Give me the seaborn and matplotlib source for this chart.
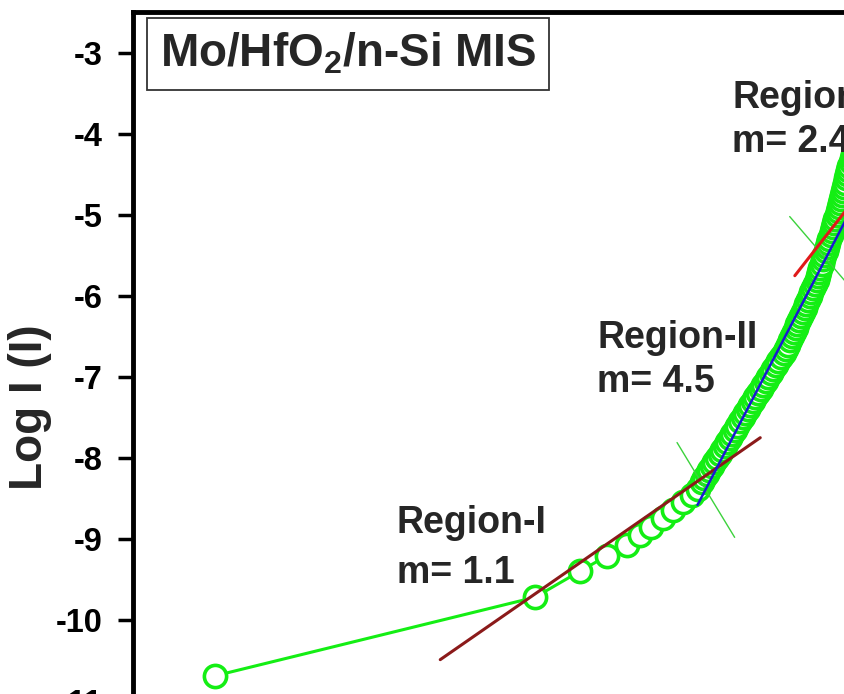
import numpy as np
import pandas as pd
import seaborn as sns
import matplotlib.pyplot as plt

# log V / log I data
log_v = [-0.96, 1.54, 1.89, 2.10, 2.26, 2.36, 2.45, 2.54, 2.62, 2.70, 2.77, 2.81,
         2.842, 2.862, 2.882, 2.902, 2.922, 2.942, 2.962, 2.982, 3.002, 3.022,
         3.042, 3.062, 3.082, 3.102, 3.122, 3.142, 3.162, 3.182, 3.202, 3.222,
         3.242, 3.262, 3.282, 3.302, 3.322, 3.342, 3.362, 3.382, 3.402, 3.422,
         3.442, 3.462, 3.482, 3.502, 3.519, 3.533, 3.547, 3.561, 3.576, 3.590,
         3.604, 3.619, 3.633, 3.646, 3.659, 3.673, 3.686, 3.700, 3.713, 3.727,
         3.740, 3.750, 3.760, 3.770, 3.780, 3.790, 3.800, 3.810, 3.820, 3.830,
         3.839, 3.849, 3.858, 3.868, 3.877, 3.887, 3.896, 3.905, 3.913, 3.922,
         3.930, 3.938, 3.947, 3.955, 3.963, 3.972, 3.980, 3.988, 3.997, 4.005,
         4.013, 4.022, 4.030]
log_i = [-10.69, -9.72, -9.40, -9.21, -9.07, -8.95, -8.85, -8.74, -8.64, -8.54, -8.46, -8.38,
         -8.30, -8.25, -8.20, -8.15, -8.10, -8.05, -8.00, -7.95, -7.90, -7.85,
         -7.80, -7.75, -7.70, -7.65, -7.60, -7.55, -7.50, -7.45, -7.40, -7.35,
         -7.30, -7.25, -7.20, -7.15, -7.10, -7.05, -7.00, -6.95, -6.90, -6.85,
         -6.80, -6.75, -6.70, -6.65, -6.60, -6.55, -6.50, -6.45, -6.40, -6.35,
         -6.30, -6.25, -6.20, -6.15, -6.10, -6.05, -6.00, -5.95, -5.90, -5.85,
         -5.80, -5.75, -5.70, -5.65, -5.60, -5.55, -5.50, -5.45, -5.40, -5.35,
         -5.30, -5.25, -5.20, -5.15, -5.10, -5.05, -5.00, -4.95, -4.90, -4.85,
         -4.80, -4.75, -4.70, -4.65, -4.60, -4.55, -4.50, -4.45, -4.40, -4.35,
         -4.30, -4.25, -4.20]

# linear fits (end points)
fit1_x = [0.80, 3.30]
fit1_y = [-10.49, -7.75]
fit2_x = [2.81, 4.10]
fit2_y = [-8.58, -4.66]
fit3_x = [3.57, 4.10]
fit3_y = [-5.75, -4.68]

# thin crossing marks at the region boundaries
cross1_x = [2.65, 3.10]
cross1_y = [-7.81, -8.98]
cross2_x = [3.53, 3.97]
cross2_y = [-5.02, -5.83]

yticks = [-11, -10, -9, -8, -7, -6, -5, -4, -3]

sns.set_style('ticks')
plt.rcParams['font.family'] = ['Liberation Sans', 'DejaVu Sans']
plt.rcParams['axes.unicode_minus'] = False
plt.rcParams['mathtext.fontset'] = 'custom'
plt.rcParams['mathtext.rm'] = 'Liberation Sans:bold'
plt.rcParams['mathtext.default'] = 'rm'

df = pd.DataFrame({'logV': log_v, 'logI': log_i})

fig = plt.figure(figsize=(8.44, 6.94), dpi=100)
ax = fig.add_axes([0.1576, -0.0684, 0.9088, 1.0512])

green = '#14ee14'
sns.lineplot(data=df, x='logV', y='logI', sort=False, estimator=None, ax=ax,
             color=green, linewidth=2.2, marker='o', markersize=16,
             markerfacecolor='white', markeredgecolor=green, markeredgewidth=2.6,
             zorder=2)

ax.plot(fit1_x, fit1_y, color='#8b1a1a', lw=2.2, zorder=4)
ax.plot(fit2_x, fit2_y, color='#1a1ad2', lw=1.8, zorder=4)
ax.plot(fit3_x, fit3_y, color='#e01a1a', lw=2.2, zorder=4)
ax.plot(cross1_x, cross1_y, color='#3cd23c', lw=1, zorder=3)
ax.plot(cross2_x, cross2_y, color='#3cd23c', lw=1, zorder=3)

ax.set_xlim(-1.6, 4.392)
ax.set_ylim(-11.5, -2.494)
ax.set_yticks(yticks)
ax.set_yticklabels([str(t) for t in yticks])
ax.set_xticks([])
ax.set_xlabel('')
ax.set_ylabel('')

for s in ['left', 'top']:
    ax.spines[s].set_linewidth(3.5)
    ax.spines[s].set_color('black')
for s in ['right', 'bottom']:
    ax.spines[s].set_visible(False)

ax.tick_params(axis='y', direction='out', length=11, width=2.5, pad=11,
               labelsize=23.5, colors='black')
for lab in ax.get_yticklabels():
    lab.set_fontweight('bold')

# labels
fig.text(30 / 844, 1 - 407 / 694, 'Log I (I)', rotation=90, ha='center', va='center',
         fontsize=33, fontweight='bold')

ax.text(-1.39, -3.17, 'Mo/HfO$_2$/n-Si MIS', fontsize=33, fontweight='bold',
        ha='left', va='baseline',
        bbox=dict(boxstyle='square,pad=0.28', fc='white', ec='#333333', lw=1.3))

ax.text(0.46, -8.93, 'Region-I', fontsize=27, fontweight='bold', ha='left', va='baseline')
ax.text(0.46, -9.54, 'm= 1.1', fontsize=27, fontweight='bold', ha='left', va='baseline')
ax.text(2.025, -6.64, 'Region-II', fontsize=27, fontweight='bold', ha='left', va='baseline')
ax.text(2.025, -7.19, 'm= 4.5', fontsize=27, fontweight='bold', ha='left', va='baseline')
ax.text(3.08, -3.68, 'Region-III', fontsize=27, fontweight='bold', ha='left', va='baseline')
ax.text(3.08, -4.22, 'm= 2.4', fontsize=27, fontweight='bold', ha='left', va='baseline')

fig.savefig('out.png', dpi=100)
